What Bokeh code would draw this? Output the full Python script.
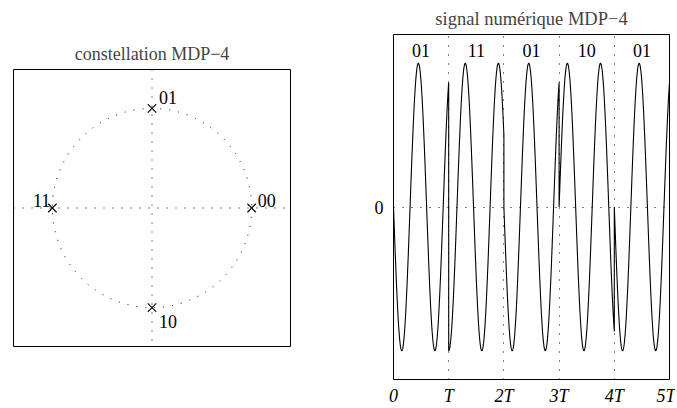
import numpy as np
from bokeh.plotting import figure
from bokeh.layouts import row, column, Spacer
from bokeh.models import Range1d, Span, FixedTicker, ColumnDataSource
from bokeh.core.properties import value
from bokeh.embed import file_html
from bokeh.resources import INLINE

# ---- data -------------------------------------------------------------
# QPSK (MDP-4) constellation: symbol -> (I, Q)
const_labels = ["00", "01", "11", "10"]
const_i = [1, 0, -1, 0]
const_q = [0, 1, 0, -1]

# transmitted symbol sequence, one per period T
symbols = ["01", "11", "01", "10", "01"]
carrier_cycles_per_T = 5 / 3

x_ticks = [0, 1, 2, 3, 4, 5]
x_tick_labels = ["0", "T", "2T", "3T", "4T", "5T"]
y_ticks = [0]
y_tick_labels = ["0"]

FONT = "Liberation Serif"
DOT = "1 8"

# ---- left: constellation ---------------------------------------------
p1 = figure(frame_width=277, frame_height=277,
            x_range=Range1d(-1.39, 1.39), y_range=Range1d(-1.39, 1.39),
            x_axis_location=None, y_axis_location=None,
            min_border_left=13, min_border_right=63, min_border_top=33,
            min_border_bottom=10,
            output_backend="svg", toolbar_location=None,
            title="constellation MDP\u22124")
p1.grid.visible = False
p1.outline_line_color = "black"
p1.outline_line_width = 1
p1.title.text_font = FONT
p1.title.text_font_size = "18px"
p1.title.text_font_style = "normal"
p1.title.align = "center"
p1.title.standoff = 12

for dim in ("width", "height"):
    p1.add_layout(Span(location=0, dimension=dim, line_color="black",
                       line_width=1, line_dash=DOT))
p1.circle(x=0, y=0, radius=1, fill_color=None, line_color="black",
          line_width=1, line_dash=DOT)

src = ColumnDataSource(dict(
    x=const_i, y=const_q, t=const_labels,
    dx=[6, 7, -2, 7], dy=[-8, -11, -8, 14],
    align=["left", "left", "right", "left"]))
p1.scatter("x", "y", source=src, marker="x", size=12, line_color="black",
           line_width=1.1)
p1.text("x", "y", text="t", source=src, x_offset="dx", y_offset="dy",
        text_align="align", text_baseline="middle",
        text_font=value(FONT), text_font_size="18px", text_color="black")

# ---- right: modulated signal -----------------------------------------
phase = {lab: np.arctan2(q, i) for lab, i, q in zip(const_labels, const_i, const_q)}
t_all, s_all = [], []
for k, sym in enumerate(symbols):
    tau = np.linspace(0, 1, 300)
    t_all.append(k + tau)
    s_all.append(np.cos(2 * np.pi * carrier_cycles_per_T * tau + phase[sym]))
t_all = np.concatenate(t_all)
s_all = np.concatenate(s_all)

p2 = figure(frame_width=276, frame_height=345,
            x_range=Range1d(0, 5), y_range=Range1d(-1.2, 1.2),
            min_border_left=40, min_border_right=6, min_border_top=33,
            min_border_bottom=26,
            output_backend="svg", toolbar_location=None,
            title="signal num\u00e9rique MDP\u22124")
p2.outline_line_color = "black"
p2.outline_line_width = 1
p2.title.text_font = FONT
p2.title.text_font_size = "18.5px"
p2.title.text_font_style = "normal"
p2.title.align = "center"
p2.title.standoff = 12

p2.xaxis.ticker = FixedTicker(ticks=x_ticks)
p2.xaxis.major_label_overrides = {t: l for t, l in zip(x_ticks, x_tick_labels)}
p2.yaxis.ticker = FixedTicker(ticks=y_ticks)
p2.yaxis.major_label_overrides = {t: l for t, l in zip(y_ticks, y_tick_labels)}
for ax in (p2.xaxis, p2.yaxis):
    ax.axis_line_color = None
    ax.major_tick_line_color = None
    ax.minor_tick_line_color = None
    ax.major_tick_out = 0
    ax.major_tick_in = 0
    ax.major_label_text_font = FONT
    ax.major_label_text_font_size = "18px"
    ax.major_label_text_color = "black"
p2.xaxis.major_label_text_font_style = "italic"
p2.xaxis.major_label_standoff = 6
p2.yaxis.major_label_standoff = 10
p2.yaxis.major_label_orientation = "horizontal"
for g in (p2.xgrid, p2.ygrid):
    g.grid_line_color = "black"
    g.grid_line_dash = DOT
    g.grid_line_width = 1

p2.line(t_all, s_all, line_color="black", line_width=1.1)
p2.text(x=[k + 0.5 for k in range(len(symbols))], y=[1.09] * len(symbols),
        text=symbols, text_align="center", text_baseline="middle",
        text_font=value(FONT), text_font_size="18px", text_color="black")

layout = row(column(Spacer(height=35, width=1), p1), p2)
open("out.html", "w").write(file_html(layout, INLINE))
